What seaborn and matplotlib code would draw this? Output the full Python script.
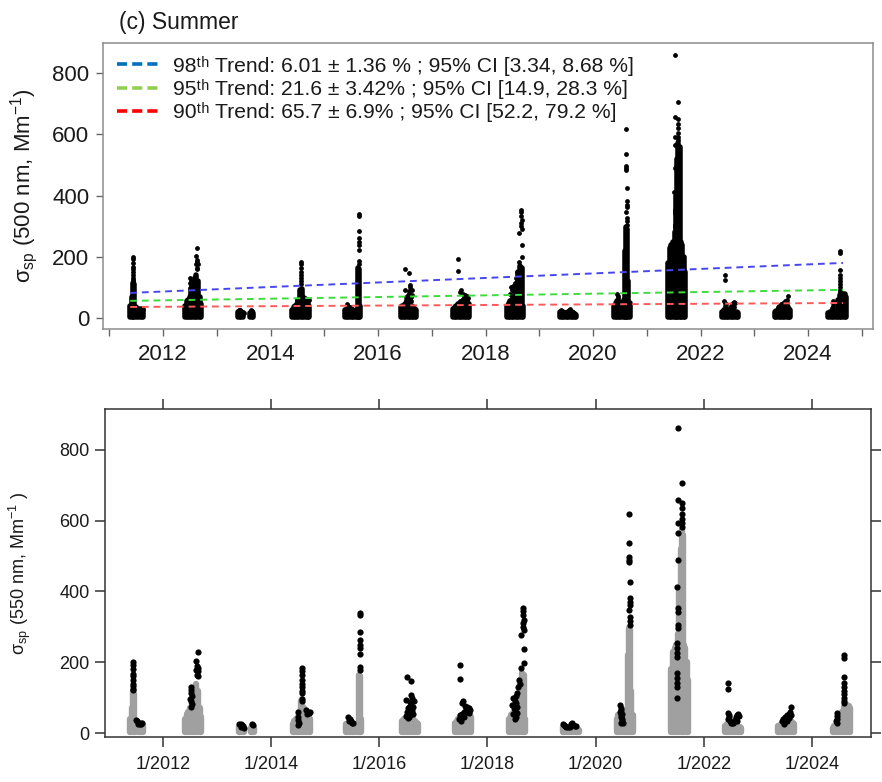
import matplotlib
matplotlib.use("Agg")
import matplotlib.pyplot as plt
from matplotlib.lines import Line2D
import pandas as pd
import seaborn as sns

# ---------------------------------------------------------------------------
# Summer scattering coefficient observations (Mm-1)
# band_YYYY : (fraction of year, upper edge of the dense hourly band)
# flag_YYYY : (fraction of year, value) hours above the high-percentile cut
# ---------------------------------------------------------------------------
summers = [2011, 2012, 2013, 2014, 2015, 2016, 2017,
           2018, 2019, 2020, 2021, 2022, 2023, 2024]

band_2011 = [(0.39, 40), (0.42, 70), (0.44, 115), (0.46, 110), (0.49, 35),
             (0.53, 30), (0.57, 28), (0.60, 28), (0.63, 22)]
flag_2011 = [(0.45, 200), (0.45, 192), (0.45, 180), (0.45, 168), (0.45, 160),
             (0.45, 150), (0.45, 140), (0.45, 132), (0.45, 125), (0.45, 121),
             (0.50, 37), (0.52, 33), (0.55, 30), (0.58, 27), (0.60, 25),
             (0.62, 28), (0.54, 25)]

band_2012 = [(0.41, 40), (0.44, 55), (0.47, 60), (0.50, 70), (0.53, 90),
             (0.56, 115), (0.59, 130), (0.62, 140), (0.65, 120), (0.68, 70),
             (0.71, 45)]
flag_2012 = [(0.64, 228), (0.62, 203), (0.63, 190), (0.64, 183), (0.62, 178),
             (0.65, 175), (0.63, 165), (0.64, 160), (0.51, 130), (0.52, 122),
             (0.51, 113), (0.53, 104), (0.50, 97), (0.52, 90), (0.53, 82),
             (0.51, 75)]

band_2013 = [(0.40, 18), (0.43, 22), (0.46, 20), (0.49, 12),
             (0.62, 15), (0.65, 20), (0.68, 15)]
flag_2013 = [(0.41, 25), (0.44, 27), (0.46, 24), (0.48, 20), (0.50, 15),
             (0.45, 18), (0.64, 25), (0.66, 22)]

band_2014 = [(0.40, 25), (0.43, 35), (0.46, 40), (0.49, 45), (0.52, 60),
             (0.55, 90), (0.58, 95), (0.61, 70), (0.64, 60), (0.67, 60),
             (0.70, 55), (0.72, 40)]
flag_2014 = [(0.57, 184), (0.57, 175), (0.57, 163), (0.57, 150), (0.57, 140),
             (0.57, 130), (0.57, 120), (0.57, 112), (0.57, 95), (0.57, 90),
             (0.50, 60), (0.49, 45), (0.50, 38), (0.51, 30), (0.49, 23),
             (0.65, 64), (0.68, 60), (0.70, 58), (0.72, 60), (0.66, 55)]

band_2015 = [(0.39, 25), (0.42, 30), (0.45, 30), (0.48, 28), (0.51, 25),
             (0.54, 25), (0.57, 22), (0.60, 25), (0.63, 165), (0.65, 160),
             (0.67, 40)]
flag_2015 = [(0.64, 339), (0.64, 333), (0.64, 285), (0.64, 262), (0.64, 249),
             (0.64, 240), (0.64, 223), (0.64, 186), (0.64, 178),
             (0.43, 45), (0.45, 40), (0.47, 35), (0.49, 30), (0.51, 28),
             (0.44, 35)]

band_2016 = [(0.42, 35), (0.45, 40), (0.48, 40), (0.51, 45), (0.54, 50),
             (0.57, 45), (0.60, 40), (0.63, 40), (0.66, 35), (0.69, 30),
             (0.71, 25)]
flag_2016 = [(0.51, 159), (0.58, 147), (0.50, 93), (0.59, 107), (0.60, 100),
             (0.57, 88), (0.58, 80), (0.55, 75), (0.53, 70), (0.56, 65),
             (0.52, 60), (0.60, 63), (0.54, 55), (0.57, 50), (0.50, 48),
             (0.55, 45), (0.53, 42), (0.62, 55), (0.64, 90), (0.63, 75),
             (0.61, 70)]

band_2017 = [(0.40, 30), (0.43, 35), (0.46, 40), (0.49, 45), (0.52, 50),
             (0.55, 50), (0.58, 55), (0.61, 60), (0.64, 55), (0.67, 50),
             (0.70, 45)]
flag_2017 = [(0.49, 192), (0.49, 152), (0.52, 85), (0.55, 92), (0.58, 78),
             (0.60, 70), (0.62, 75), (0.65, 72), (0.68, 65), (0.56, 60),
             (0.53, 55), (0.50, 50), (0.48, 40), (0.51, 35), (0.57, 45),
             (0.63, 60), (0.66, 58)]

band_2018 = [(0.40, 40), (0.43, 50), (0.46, 55), (0.49, 60), (0.52, 60),
             (0.55, 70), (0.58, 110), (0.61, 150), (0.64, 170), (0.67, 165),
             (0.70, 40)]
flag_2018 = [(0.66, 353), (0.66, 345), (0.66, 333), (0.67, 320), (0.66, 311),
             (0.66, 300), (0.67, 291), (0.62, 277), (0.67, 237), (0.67, 198),
             (0.62, 184), (0.58, 150), (0.60, 140), (0.57, 130), (0.55, 113),
             (0.52, 105), (0.48, 100), (0.50, 92), (0.53, 85), (0.46, 80),
             (0.55, 75), (0.49, 70), (0.51, 65), (0.54, 58), (0.47, 55),
             (0.53, 45), (0.50, 40)]

band_2019 = [(0.39, 18), (0.42, 20), (0.45, 18), (0.48, 15), (0.51, 15),
             (0.54, 18), (0.57, 20), (0.60, 18), (0.63, 15), (0.66, 12),
             (0.69, 10)]
flag_2019 = [(0.40, 25), (0.42, 22), (0.44, 20), (0.46, 18), (0.52, 18),
             (0.55, 25), (0.57, 28), (0.59, 24), (0.61, 20), (0.63, 20),
             (0.48, 16)]

band_2020 = [(0.39, 40), (0.42, 50), (0.45, 55), (0.48, 50), (0.51, 45),
             (0.54, 50), (0.57, 60), (0.60, 220), (0.62, 297), (0.64, 290),
             (0.66, 120), (0.69, 50)]
flag_2020 = [(0.62, 618), (0.62, 537), (0.62, 498), (0.62, 490), (0.62, 483),
             (0.63, 426), (0.63, 381), (0.63, 370), (0.63, 362), (0.61, 347),
             (0.63, 328), (0.63, 318), (0.63, 305), (0.45, 79), (0.46, 72),
             (0.47, 65), (0.45, 60), (0.48, 55), (0.46, 50), (0.47, 45),
             (0.49, 40), (0.48, 35), (0.50, 30), (0.46, 28)]

band_2021 = [(0.40, 180), (0.43, 230), (0.46, 240), (0.49, 250), (0.52, 280),
             (0.55, 400), (0.57, 520), (0.59, 573), (0.61, 560), (0.63, 250),
             (0.66, 240), (0.69, 200), (0.71, 150)]
flag_2021 = [(0.52, 861), (0.59, 706), (0.52, 658), (0.59, 650), (0.59, 635),
             (0.59, 620), (0.59, 605), (0.59, 593), (0.59, 582), (0.52, 593),
             (0.52, 565), (0.52, 489), (0.50, 413), (0.52, 353), (0.52, 342),
             (0.52, 305), (0.52, 297), (0.50, 254), (0.50, 240), (0.50, 225),
             (0.50, 215), (0.50, 169), (0.50, 155), (0.50, 142), (0.50, 130),
             (0.50, 99)]

band_2022 = [(0.40, 20), (0.43, 25), (0.46, 25), (0.49, 20), (0.52, 20),
             (0.55, 22), (0.58, 25), (0.61, 22), (0.64, 20), (0.67, 18),
             (0.69, 15)]
flag_2022 = [(0.45, 141), (0.45, 124), (0.44, 56), (0.46, 50), (0.47, 45),
             (0.45, 40), (0.48, 35), (0.50, 30), (0.52, 28), (0.55, 32),
             (0.57, 38), (0.59, 45), (0.61, 50), (0.63, 53), (0.65, 48),
             (0.60, 40), (0.62, 35), (0.54, 30)]

band_2023 = [(0.38, 20), (0.41, 22), (0.44, 25), (0.47, 28), (0.50, 30),
             (0.53, 30), (0.56, 35), (0.59, 40), (0.62, 35), (0.65, 30),
             (0.67, 25)]
flag_2023 = [(0.44, 35), (0.46, 40), (0.48, 30), (0.50, 45), (0.52, 40),
             (0.54, 50), (0.56, 48), (0.58, 55), (0.60, 60), (0.62, 73),
             (0.61, 50), (0.57, 42), (0.53, 35), (0.49, 25)]

band_2024 = [(0.38, 15), (0.41, 20), (0.44, 22), (0.47, 25), (0.50, 20),
             (0.53, 20), (0.56, 60), (0.59, 75), (0.62, 79), (0.65, 79),
             (0.68, 78), (0.70, 70)]
flag_2024 = [(0.59, 220), (0.59, 212), (0.59, 158), (0.60, 141), (0.60, 130),
             (0.60, 120), (0.60, 110), (0.60, 100), (0.59, 92), (0.60, 85),
             (0.46, 56), (0.46, 48), (0.46, 40), (0.45, 33), (0.46, 28)]

bands = [band_2011, band_2012, band_2013, band_2014, band_2015, band_2016,
         band_2017, band_2018, band_2019, band_2020, band_2021, band_2022,
         band_2023, band_2024]
flags = [flag_2011, flag_2012, flag_2013, flag_2014, flag_2015, flag_2016,
         flag_2017, flag_2018, flag_2019, flag_2020, flag_2021, flag_2022,
         flag_2023, flag_2024]

# Percentile trend fits (start / end of the fitted period)
trend_years = [2011.39, 2024.65]
trend_98 = [82, 180]
trend_95 = [56, 92]
trend_90 = [36, 49]

legend_labels = [
    "98ᵗʰ Trend: 6.01 ± 1.36 % ; 95% CI [3.34, 8.68 %]",
    "95ᵗʰ Trend: 21.6 ± 3.42% ; 95% CI [14.9, 28.3 %]",
    "90ᵗʰ Trend: 65.7 ± 6.9% ; 95% CI [52.2, 79.2 %]",
]
legend_colors = ["#0070C0", "#92D050", "#FF0000"]
trend_colors = ["#4646F0", "#3CDC3C", "#FF5A5A"]

BAND_FLOOR = 3

band_df = pd.DataFrame(
    [(yr + f, top) for yr, band in zip(summers, bands) for f, top in band],
    columns=["t", "top"])
flag_df = pd.DataFrame(
    [(yr + f, v) for yr, fl in zip(summers, flags) for f, v in fl],
    columns=["t", "v"])

# ---------------------------------------------------------------------------
sns.set_style("white")
plt.rcParams["font.family"] = ["Liberation Sans", "DejaVu Sans"]
plt.rcParams["mathtext.fontset"] = "custom"
plt.rcParams["mathtext.rm"] = "Liberation Sans"
plt.rcParams["mathtext.it"] = "Liberation Sans:italic"
plt.rcParams["mathtext.bf"] = "Liberation Sans:bold"
plt.rcParams["text.color"] = "#1a1a1a"
plt.rcParams["axes.labelcolor"] = "#1a1a1a"
plt.rcParams["xtick.labelcolor"] = "#1a1a1a"
plt.rcParams["ytick.labelcolor"] = "#1a1a1a"

fig = plt.figure(figsize=(8.82, 7.82), dpi=100)
ax1 = fig.add_axes([0.1168, 0.5793, 0.8730, 0.3657])
ax2 = fig.add_axes([0.1190, 0.0575, 0.8685, 0.4194])

# ---------------- upper panel ----------------
ax1.vlines(band_df["t"], BAND_FLOOR, band_df["top"], color="black",
           lw=4.0, capstyle="round", zorder=2)
sns.scatterplot(data=flag_df, x="t", y="v", color="black", s=12,
                linewidth=0, ax=ax1, zorder=3)

for yv, c in zip([trend_98, trend_95, trend_90], trend_colors):
    sns.lineplot(x=trend_years, y=yv, color=c, lw=1.4,
                 linestyle=(0, (3.5, 2.5)), ax=ax1, zorder=4)

ax1.set_xlim(2010.884, 2025.209)
ax1.set_ylim(-36, 899)
ax1.set_xticks(list(range(2011, 2026)))
ax1.set_xticklabels([str(y) if y % 2 == 0 else "" for y in range(2011, 2026)])
ax1.set_yticks([0, 200, 400, 600, 800])
ax1.tick_params(axis="both", which="major", direction="out", length=5,
                width=1.0, color="#666666", labelsize=16, pad=5,
                bottom=True, left=True)
ax1.tick_params(axis="x", pad=6)
for sp in ax1.spines.values():
    sp.set_color("#8C8C8C")
    sp.set_linewidth(1.1)
ax1.set_xlabel("")
ax1.set_ylabel("σ$_{\\mathrm{sp}}$ (500 nm, Mm$^{\\mathrm{-1}}$)", fontsize=16)
ax1.yaxis.set_label_coords(-0.082, 0.5)

handles = [Line2D([0], [0], color=c, lw=2.6, linestyle=(0, (2.8, 1.4)))
           for c in legend_colors]
ax1.legend(handles, legend_labels, loc="upper left",
           bbox_to_anchor=(0.018, 0.955), frameon=False, fontsize=15.2,
           handlelength=1.95, handletextpad=0.7, labelspacing=0.15,
           borderaxespad=0, borderpad=0)

fig.text(119 / 882, 1 - 22 / 782, "(c) Summer", fontsize=16.5,
         ha="left", va="center")

# ---------------- lower panel ----------------
ax2.vlines(band_df["t"], BAND_FLOOR, band_df["top"], color="#A0A0A0",
           lw=4.6, capstyle="round", zorder=2)
sns.scatterplot(data=flag_df, x="t", y="v", color="black", s=20,
                linewidth=0, ax=ax2, zorder=3)

ax2.set_xlim(2010.928, 2025.09)
ax2.set_ylim(-11, 915)
ax2.set_xticks(list(range(2012, 2025, 2)))
ax2.set_xticklabels([f"1/{y}" for y in range(2012, 2025, 2)])
ax2.set_yticks([0, 200, 400, 600, 800])
ax2.tick_params(axis="both", which="major", direction="out", length=7,
                width=1.1, color="#333333", labelsize=13, pad=4,
                bottom=True, top=True, left=True, right=True)
ax2.tick_params(axis="x", pad=7)
for sp in ax2.spines.values():
    sp.set_color("#333333")
    sp.set_linewidth(1.1)
ax2.set_xlabel("")
ax2.set_ylabel("σ$_{\\mathrm{sp}}$ (550 nm, Mm$^{\\mathrm{-1}}$ )", fontsize=13)
ax2.yaxis.set_label_coords(-0.094, 0.5)

fig.savefig("out.png", dpi=100)
